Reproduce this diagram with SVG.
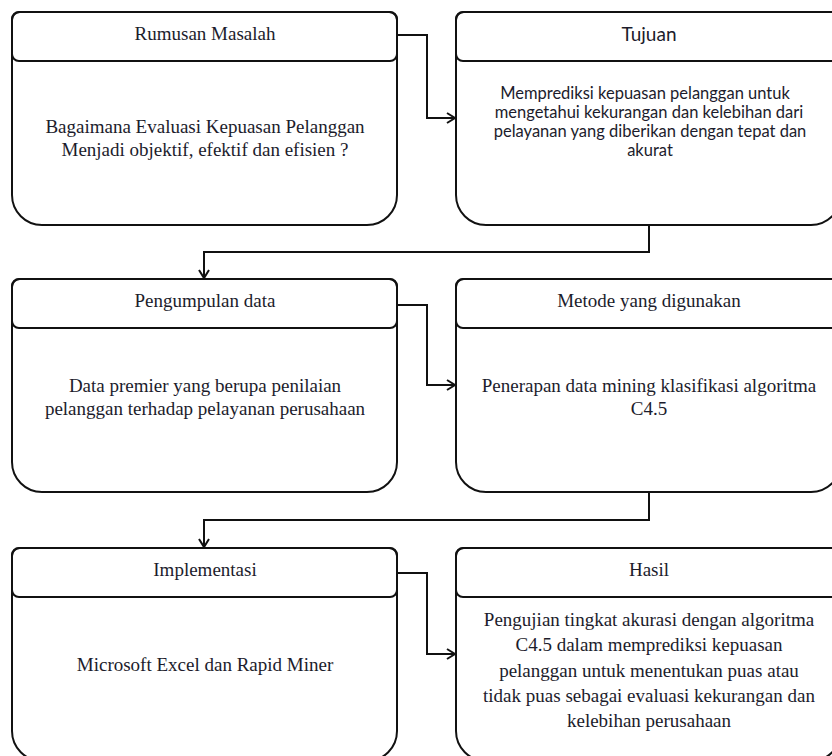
<svg xmlns="http://www.w3.org/2000/svg" width="832" height="756" viewBox="0 0 832 756">
<defs>
<style>
.box{fill:#fff;stroke:#111;stroke-width:2}
.hdr{fill:none;stroke:#111;stroke-width:2}
.t{font-family:"Liberation Serif","Times New Roman",serif;font-size:19px;fill:#1c1c2c;text-anchor:middle}
.s{font-family:Lato,"Open Sans","Liberation Sans",sans-serif;font-size:16.5px;fill:#1c1c2c;text-anchor:middle}
.sh{font-size:19px}
.c{fill:none;stroke:#111;stroke-width:2}
</style>
<marker id="arr" markerUnits="userSpaceOnUse" markerWidth="12" markerHeight="14" refX="9" refY="6" orient="auto">
<path d="M1,1 L9,6 L1,11" fill="none" stroke="#111" stroke-width="2"/>
</marker>
</defs>
<rect width="832" height="756" fill="#fff"/>

<g id="rumusan">
<path class="box" d="M12,20 A8,8 0 0 1 20,12 H389 A8,8 0 0 1 397,20 V195 A30,30 0 0 1 367,225 H42 A30,30 0 0 1 12,195 Z"/>
<rect class="hdr" x="12" y="12" width="385" height="49" rx="7"/>
<text class="t" x="205" y="40">Rumusan Masalah</text>
<text class="t" x="205" y="133">Bagaimana Evaluasi Kepuasan Pelanggan</text>
<text class="t" x="205" y="156">Menjadi objektif, efektif dan efisien ?</text>
</g>

<g id="tujuan">
<path class="box" d="M456,20 A8,8 0 0 1 464,12 H833 A8,8 0 0 1 841,20 V195 A30,30 0 0 1 811,225 H486 A30,30 0 0 1 456,195 Z"/>
<rect class="hdr" x="456" y="12" width="385" height="49" rx="7"/>
<text class="s sh" x="649" y="41">Tujuan</text>
<text class="s" x="645" y="99">Memprediksi kepuasan pelanggan untuk</text>
<text class="s" x="649" y="118">mengetahui kekurangan dan kelebihan dari</text>
<text class="s" x="650" y="137">pelayanan yang diberikan dengan tepat dan</text>
<text class="s" x="650" y="156">akurat</text>
</g>

<g id="pengumpulan">
<path class="box" d="M12,287 A8,8 0 0 1 20,279 H389 A8,8 0 0 1 397,287 V462 A30,30 0 0 1 367,492 H42 A30,30 0 0 1 12,462 Z"/>
<rect class="hdr" x="12" y="279" width="385" height="49" rx="7"/>
<text class="t" x="205" y="307">Pengumpulan data</text>
<text class="t" x="205" y="392">Data premier yang berupa penilaian</text>
<text class="t" x="205" y="415">pelanggan terhadap pelayanan perusahaan</text>
</g>

<g id="metode">
<path class="box" d="M456,287 A8,8 0 0 1 464,279 H833 A8,8 0 0 1 841,287 V462 A30,30 0 0 1 811,492 H486 A30,30 0 0 1 456,462 Z"/>
<rect class="hdr" x="456" y="279" width="385" height="49" rx="7"/>
<text class="t" x="649" y="307">Metode yang digunakan</text>
<text class="t" x="649" y="392">Penerapan data mining klasifikasi algoritma</text>
<text class="t" x="649" y="415">C4.5</text>
</g>

<g id="implementasi">
<path class="box" d="M12,556 A8,8 0 0 1 20,548 H389 A8,8 0 0 1 397,556 V731 A30,30 0 0 1 367,761 H42 A30,30 0 0 1 12,731 Z"/>
<rect class="hdr" x="12" y="548" width="385" height="49" rx="7"/>
<text class="t" x="205" y="576">Implementasi</text>
<text class="t" x="205" y="671">Microsoft Excel dan Rapid Miner</text>
</g>

<g id="hasil">
<path class="box" d="M456,556 A8,8 0 0 1 464,548 H833 A8,8 0 0 1 841,556 V731 A30,30 0 0 1 811,761 H486 A30,30 0 0 1 456,731 Z"/>
<rect class="hdr" x="456" y="548" width="385" height="49" rx="7"/>
<text class="t" x="649" y="576">Hasil</text>
<text class="t" x="649" y="626">Pengujian tingkat akurasi dengan algoritma</text>
<text class="t" x="649" y="651">C4.5 dalam memprediksi kepuasan</text>
<text class="t" x="649" y="677">pelanggan untuk menentukan puas atau</text>
<text class="t" x="649" y="702">tidak puas sebagai evaluasi kekurangan dan</text>
<text class="t" x="649" y="727">kelebihan perusahaan</text>
</g>

<g id="connectors">
<path class="c" d="M397,35 H427 V118 H455" marker-end="url(#arr)"/>
<path class="c" d="M649,225 V252 H204 V278" marker-end="url(#arr)"/>
<path class="c" d="M397,305 H427 V385 H455" marker-end="url(#arr)"/>
<path class="c" d="M649,492 V520 H204 V547" marker-end="url(#arr)"/>
<path class="c" d="M397,573 H427 V654 H455" marker-end="url(#arr)"/>
</g>
</svg>
